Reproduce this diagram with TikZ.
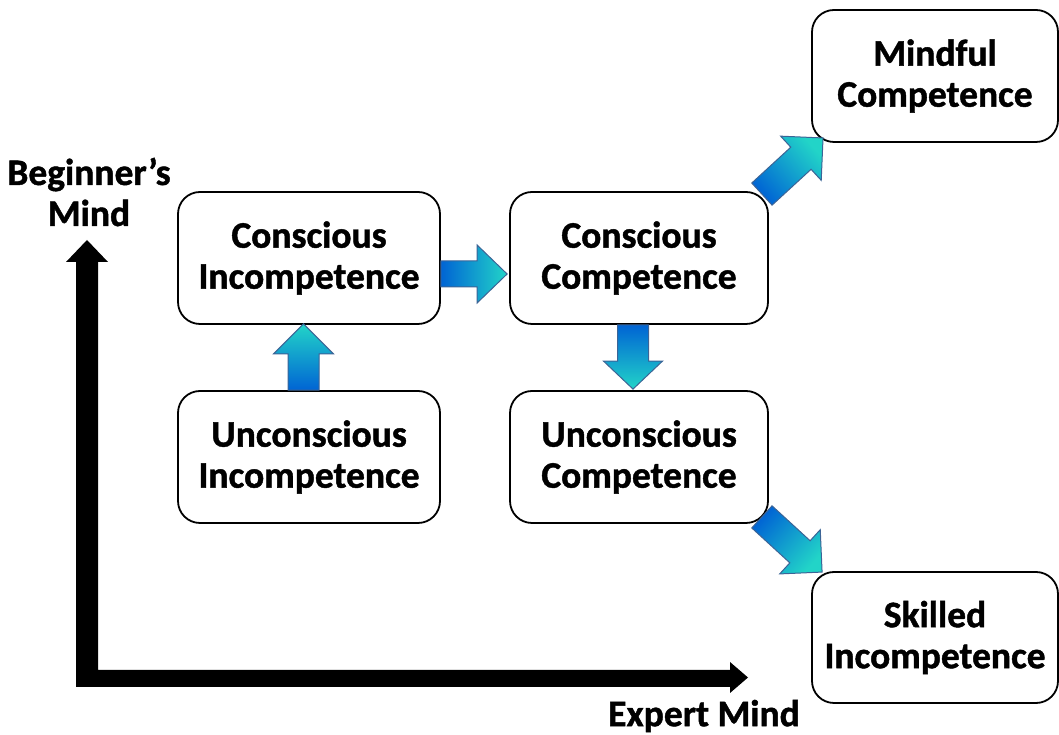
\documentclass[tikz,border=0pt]{standalone}
\usepackage{fontspec}
\setmainfont{Carlito}[BoldFeatures={FakeBold=1.2}]
\usetikzlibrary{calc}
\definecolor{tailblue}{RGB}{0,100,212}
\definecolor{headcyan}{RGB}{34,212,200}
\definecolor{arrowedge}{RGB}{60,100,150}
\tikzset{
  box/.style={draw=black, line width=1.8pt, rounded corners=22pt, fill=white,
    align=center, font=\fontsize{37.5}{41}\selectfont\bfseries, inner sep=0pt},
  axislabel/.style={align=center, font=\fontsize{37.5}{41}\selectfont\bfseries, inner sep=0pt},
  fatarrow/.style={draw=arrowedge, line width=1pt, shade, shading=axis,
    top color=headcyan, bottom color=tailblue},
}
\newcommand\fatarrow[5]{%
  \path let \p1=(#1), \p2=(#2), \n1={atan2(\y2-\y1,\x2-\x1)}, \n2={veclen(\x2-\x1,\y2-\y1)} in
    \pgfextra{\xdef\faang{\n1}\xdef\falen{\n2}} (\p1) coordinate (fatmp);
  \begin{scope}[shift={(fatmp)}, rotate=\faang]
    \path[fatarrow, shading angle={\faang-90}]
      (0,-#3) -- ({\falen-#5},-#3) -- ({\falen-#5},-#4) -- (\falen,0)
      -- ({\falen-#5},#4) -- ({\falen-#5},#3) -- (0,#3) -- cycle;
  \end{scope}}
\begin{document}
\begin{tikzpicture}[x=1pt,y=1pt]
\useasboundingbox (0,0) rectangle (1059,735);
% boxes
\node[box, minimum width=262, minimum height=132] (CI) at (309,477) {Conscious\\Incompetence};
\node[box, minimum width=258, minimum height=132] (CC) at (639,477) {Conscious\\Competence};
\node[box, minimum width=262, minimum height=132] (UI) at (309,278) {Unconscious\\Incompetence};
\node[box, minimum width=258, minimum height=132] (UC) at (639,278) {Unconscious\\Competence};
\node[box, minimum width=246, minimum height=132] (MC) at (935,659) {Mindful\\Competence};
\node[box, minimum width=246, minimum height=131] (SI) at (935,97.5) {Skilled\\Incompetence};
% connectors
\coordinate (a1s) at ($(UI.north)+(-5.5,0)$);
\coordinate (a1e) at ($(CI.south)+(-5.5,1)$);
\fatarrow{a1s}{a1e}{15.5}{30}{30}
\coordinate (a2s) at ($(CI.east)+(0,-16)$);
\coordinate (a2e) at ($(CC.west)+(-2,-16)$);
\fatarrow{a2s}{a2e}{13}{29}{30}
\coordinate (a3s) at ($(CC.south)+(-6,0)$);
\coordinate (a3e) at ($(UC.north)+(-6,1)$);
\fatarrow{a3s}{a3e}{15.5}{29.5}{28}
\coordinate (a4s) at ($(CC.north east)+(-7,-3)$);
\coordinate (a4e) at ($(MC.south west)+(12,5)$);
\fatarrow{a4s}{a4e}{15}{30}{30}
\coordinate (a5s) at ($(UC.south east)+(-7,7)$);
\coordinate (a5e) at ($(SI.north west)+(11,-1)$);
\fatarrow{a5s}{a5e}{15}{30}{30}
% axes
\coordinate (origin) at (76,48);
\fill[black] (origin) -- (76,473) -- (66,473) -- (87,495) -- (108,473) -- (98,473)
  -- (98,65) -- (730,65) -- (730,73) -- (748,57.5) -- (730,42) -- (730,48) -- cycle;
\node[axislabel] (BM) at (89,543) {Beginner’s\\Mind};
\node[axislabel] (EM) at (704,19) {Expert Mind};
\end{tikzpicture}
\end{document}
